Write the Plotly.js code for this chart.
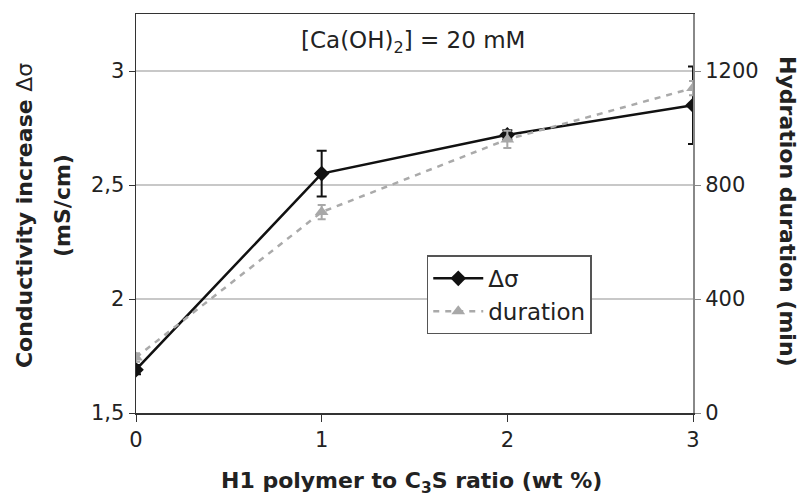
<!DOCTYPE html>
<html>
<head>
<meta charset="utf-8">
<script src="https://cdn.plot.ly/plotly-3.0.1.min.js"></script>
<style>html,body{margin:0;padding:0;background:#fff;}#chart{width:803px;height:497px;}</style>
</head>
<body>
<div id="chart"></div>
<script>
const ratio = [0, 1, 2, 3];
const deltaSigma = [1.69, 2.55, 2.72, 2.85];
const deltaSigmaErr = [0.02, 0.10, 0.02, 0.17];
const duration = [195, 705, 960, 1140];
const durationErr = [15, 25, 30, 25];
const xTicks = [0, 1, 2, 3];
const yTicks = [1.5, 2, 2.5, 3];
const yTickText = ['1,5', '2', '2,5', '3'];
const y2Ticks = [0, 400, 800, 1200];

const font = "DejaVu Sans, Liberation Sans, Arial, sans-serif";
const txt = '#222';
const tickSize = 21;
const titleSize = 22;

const traces = [
  {
    x: ratio, y: duration, name: 'duration', yaxis: 'y2', type: 'scatter', mode: 'lines+markers',
    line: {color: '#aaaaaa', width: 2.5, dash: '6px,6px'},
    marker: {symbol: 'triangle-up', size: 12, color: '#a8a8a8'},
    error_y: {type: 'data', array: durationErr, visible: true, color: '#a8a8a8', thickness: 2, width: 4}
  },
  {
    x: ratio, y: deltaSigma, name: 'Δσ', type: 'scatter', mode: 'lines+markers',
    line: {color: '#111111', width: 2.5},
    marker: {symbol: 'diamond', size: 12, color: '#111111'},
    error_y: {type: 'data', array: deltaSigmaErr, visible: true, color: '#111111', thickness: 2, width: 5}
  }
];

const layout = {
  width: 803, height: 497,
  margin: {l: 136, r: 110, t: 14, b: 84},
  paper_bgcolor: '#fff', plot_bgcolor: '#fff',
  separators: ',.',
  font: {family: font, size: tickSize, color: txt},
  showlegend: true,
  legend: {
    x: 0.522, y: 0.395, xanchor: 'left', yanchor: 'top',
    bgcolor: '#fff', bordercolor: '#555', borderwidth: 1.5,
    font: {family: font, size: 23, color: txt},
    traceorder: 'reversed', tracegroupgap: 0, itemwidth: 50
  },
  xaxis: {
    range: [0, 3], tickvals: xTicks, ticktext: xTicks.map(String),
    showline: true, linecolor: '#333', linewidth: 1.5, mirror: true,
    ticks: 'outside', ticklen: 7, tickcolor: '#333', showgrid: false, zeroline: false,
    tickfont: {family: font, size: tickSize, color: txt}
  },
  yaxis: {
    range: [1.5, 3.25], tickvals: yTicks, ticktext: yTickText,
    showline: true, linecolor: '#333', linewidth: 1.5,
    ticks: 'outside', ticklen: 6, tickcolor: '#333',
    showgrid: true, gridcolor: '#c8c8c8', gridwidth: 1.5, zeroline: false,
    tickfont: {family: font, size: tickSize, color: txt}
  },
  yaxis2: {
    range: [0, 1400], tickvals: y2Ticks, ticktext: y2Ticks.map(String),
    overlaying: 'y', side: 'right', anchor: 'x',
    showline: true, linecolor: '#888', linewidth: 2,
    ticks: 'outside', ticklen: 6, tickcolor: '#888',
    showgrid: false, zeroline: false,
    tickfont: {family: font, size: tickSize, color: txt}
  },
  shapes: [
    {type: 'line', xref: 'paper', x0: 0, x1: 1, yref: 'y', y0: 2, y1: 2, line: {color: '#555', width: 1.5}, layer: 'below'}
  ],
  annotations: [
    {xref: 'paper', yref: 'paper', x: 0.498, y: 0.93, xanchor: 'center', yanchor: 'middle', showarrow: false,
     text: '[Ca(OH)<sub>2</sub>] = 20 mM', font: {family: font, size: 23, color: txt}},
    {xref: 'paper', yref: 'paper', x: -0.199, y: 0.494, xanchor: 'center', yanchor: 'middle', showarrow: false, textangle: -90,
     text: '<b>Conductivity increase </b>Δσ', font: {family: font, size: titleSize, color: txt}},
    {xref: 'paper', yref: 'paper', x: -0.131, y: 0.519, xanchor: 'center', yanchor: 'middle', showarrow: false, textangle: -90,
     text: '<b>(mS/cm)</b>', font: {family: font, size: titleSize, color: txt}},
    {xref: 'paper', yref: 'paper', x: 1.1706, y: 0.506, xanchor: 'center', yanchor: 'middle', showarrow: false, textangle: 90,
     text: '<b>Hydration duration (min)</b>', font: {family: font, size: titleSize, color: txt}},
    {xref: 'paper', yref: 'paper', x: 0.4955, y: -0.173, xanchor: 'center', yanchor: 'middle', showarrow: false,
     text: '<b>H1 polymer to C<sub>3</sub>S ratio (wt %)</b>', font: {family: font, size: titleSize, color: txt}}
  ]
};

Plotly.newPlot('chart', traces, layout, {displayModeBar: false, staticPlot: true});
</script>
</body>
</html>
